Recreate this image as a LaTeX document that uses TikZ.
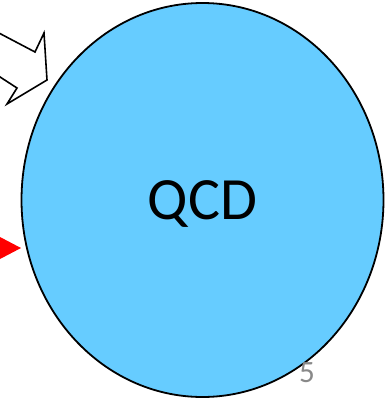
\documentclass[tikz,border=0pt]{standalone}
\usepackage{fontspec}
\setmainfont{Carlito}
\usetikzlibrary{shapes.geometric}
\definecolor{qcdblue}{HTML}{66CCFF}
\definecolor{pagegray}{HTML}{898989}
\tikzset{
  blob/.style={ellipse, draw=black, line width=1.8pt, fill=qcdblue,
    minimum width=362pt, minimum height=394pt, inner sep=0pt},
  blobtext/.style={font=\fontsize{60}{60}\selectfont, inner sep=0pt},
  outlinearrow/.style={draw=black, line width=1.6pt, fill=white, line join=miter},
  pointer/.style={fill=red, draw=none},
  pagenum/.style={text=pagegray, font=\fontsize{31}{31}\selectfont, inner sep=0pt}
}
\begin{document}
\begin{tikzpicture}[x=1pt, y=-1pt]
  \useasboundingbox (0,0) rectangle (385,399);
  % hollow block arrow entering from the upper left
  \draw[outlinearrow] (-3,32) -- (35,52) -- (44,33) -- (47,80) -- (7,104) -- (17,88) -- (-3,75);
  % main circle and its label
  \node[blob] (qcd) at (202.5,200) {};
  \node[blobtext] (label) at (202.5,203.5) {QCD};
  % red pointer at the left edge
  \fill[pointer] (0,237) -- (21,248) -- (0,259) -- cycle;
  % slide number
  \node[pagenum] (num) at (307,373) {5};
\end{tikzpicture}
\end{document}
